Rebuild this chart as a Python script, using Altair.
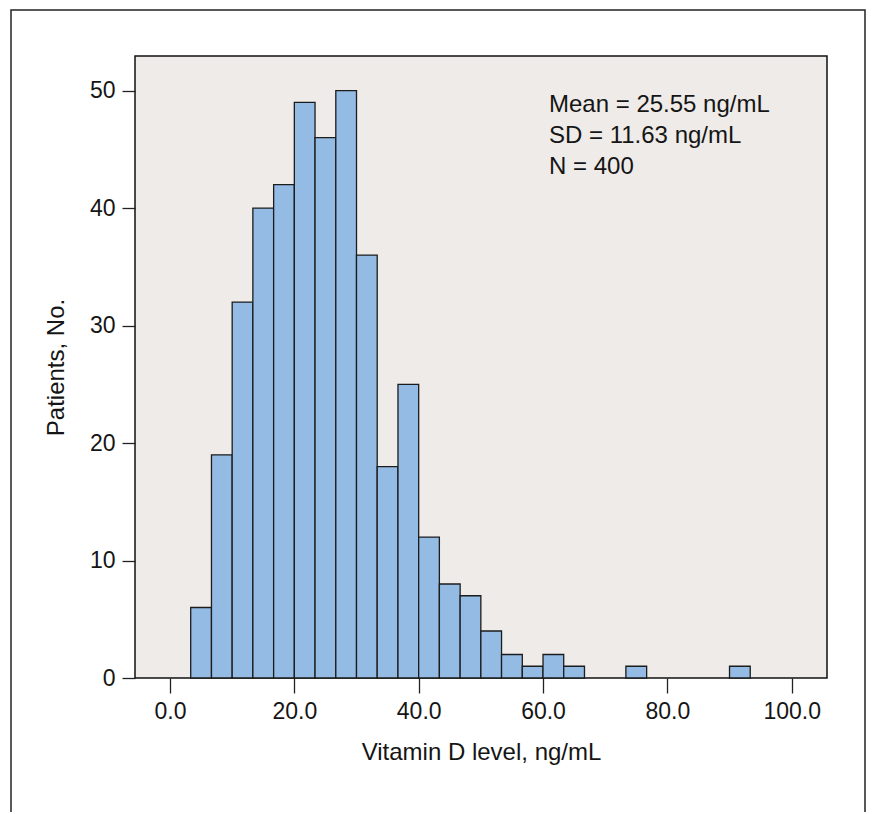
import altair as alt
import pandas as pd

# ---- data ----
bin_edges = [3.33, 6.67, 10.0, 13.33, 16.67, 20.0, 23.33, 26.67, 30.0, 33.33,
             36.67, 40.0, 43.33, 46.67, 50.0, 53.33, 56.67, 60.0, 63.33, 66.67,
             70.0, 73.33, 76.67, 80.0, 83.33, 86.67, 90.0, 93.33]
counts = [6, 19, 32, 40, 42, 49, 46, 50, 36, 18, 25, 12, 8, 7, 4, 2, 1, 2, 1,
          0, 0, 1, 0, 0, 0, 0, 1]
x_ticks = [0, 20, 40, 60, 80, 100]
y_ticks = [0, 10, 20, 30, 40, 50]
stats_lines = ["Mean = 25.55 ng/mL", "SD = 11.63 ng/mL", "N = 400"]
x_title = "Vitamin D level, ng/mL"
y_title = "Patients, No."

df = pd.DataFrame({"lo": bin_edges[:-1], "hi": bin_edges[1:], "count": counts})

FONT = "Liberation Sans"
INK = "#151515"

bars = alt.Chart(df).transform_filter("datum.count > 0").mark_rect(
    fill="#93bbe4", stroke="#1c1c1c", strokeWidth=1.3, opacity=1
).encode(
    x=alt.X("lo:Q",
            scale=alt.Scale(domain=[-5.63, 105.68], nice=False, zero=False),
            axis=alt.Axis(values=x_ticks, format=".1f", title=x_title,
                          tickSize=15, labelPadding=7, labelFlush=False,
                          labelOverlap=False, titleY=81.3,
                          titleBaseline="alphabetic")),
    x2="hi:Q",
    y=alt.Y("count:Q",
            scale=alt.Scale(domain=[0, 52.95], nice=False),
            axis=alt.Axis(values=y_ticks, format="d", title=y_title,
                          tickSize=13, labelPadding=7, titleX=-71.7,
                          titleBaseline="alphabetic")),
    y2=alt.datum(0),
)

layers = [bars]
for i, line in enumerate(stats_lines):
    layers.append(
        alt.Chart(pd.DataFrame({"t": [line]})).mark_text(
            align="left", baseline="alphabetic", font=FONT, fontSize=24,
            color=INK
        ).encode(text="t:N", x=alt.value(414), y=alt.value(55.7 + 31.3 * i))
    )

frame = alt.Chart(pd.DataFrame({"f": [0]})).mark_rect(
    fillOpacity=0, stroke="#222222", strokeWidth=1.5
).encode(x=alt.value(-124), x2=alt.value(730), y=alt.value(-46),
         y2=alt.value(800))
layers.append(frame)

chart = alt.layer(*layers).properties(
    width=692, height=622,
    autosize=alt.AutoSizeParams(type="none"),
    padding={"left": 127, "top": 48, "right": 39, "bottom": 134},
    background="white",
).configure_view(
    fill="#efebe8", stroke="#111111", strokeWidth=1.5
).configure_axis(
    grid=False, domain=False, tickColor="#222222", tickWidth=1.3,
    labelFont=FONT, labelFontSize=23, labelColor=INK,
    titleFont=FONT, titleFontSize=24, titleFontWeight="normal",
    titleColor=INK,
)

chart.save("out.html", embed_options={"renderer": "svg", "actions": False})
